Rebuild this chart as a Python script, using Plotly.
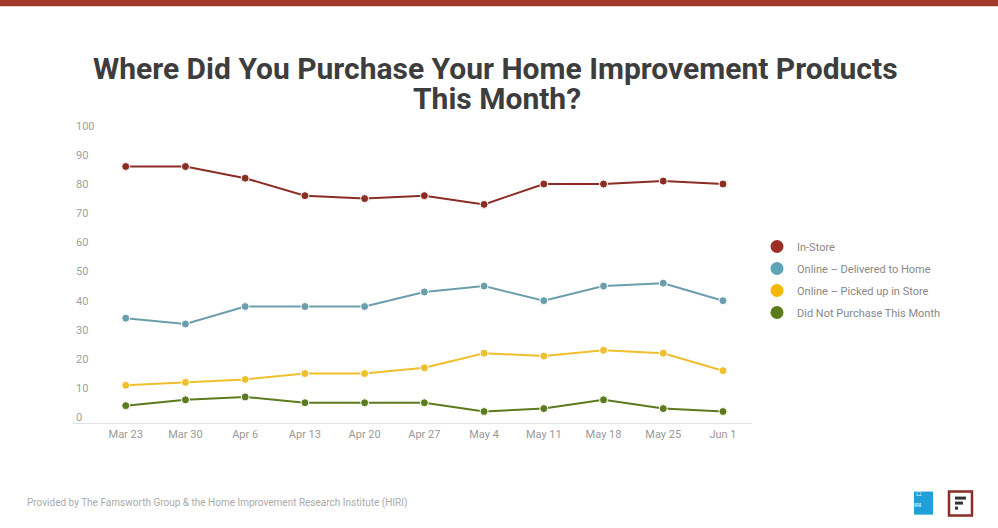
import plotly.graph_objects as go

weeks = ["Mar 23", "Mar 30", "Apr 6", "Apr 13", "Apr 20", "Apr 27", "May 4", "May 11", "May 18", "May 25", "Jun 1"]
series_names = ["In-Store", "Online – Delivered to Home", "Online – Picked up in Store", "Did Not Purchase This Month"]
in_store = [86, 86, 82, 76, 75, 76, 73, 80, 80, 81, 80]
delivered = [34, 32, 38, 38, 38, 43, 45, 40, 45, 46, 40]
picked_up = [11, 12, 13, 15, 15, 17, 22, 21, 23, 22, 16]
did_not = [4, 6, 7, 5, 5, 5, 2, 3, 6, 3, 2]
y_ticks = [0, 10, 20, 30, 40, 50, 60, 70, 80, 90, 100]

line_colors = ["#8c2d24", "#6b9ead", "#efbf2e", "#5c7a1e"]
legend_colors = ["#9b2f26", "#5fa3b8", "#f5b800", "#5a7b1c"]

W, H = 998, 528
Y_MIN, Y_MAX = -4, 104
ML, MR, MT, MB = 73, 246, 114.4, 99.4
PW, PH = W - ML - MR, H - MT - MB


def px_x(p):
    return (p - ML) / PW


def px_y(p):
    return (H - MB - p) / PH


fig = go.Figure()
x_idx = list(range(len(weeks)))
for name, vals, lc in zip(series_names, [in_store, delivered, picked_up, did_not], line_colors):
    fig.add_trace(go.Scatter(
        x=x_idx, y=vals, mode="lines+markers", name=name,
        line=dict(color=lc, width=2),
        marker=dict(size=8, color=lc, line=dict(color="white", width=1)),
        showlegend=False, hoverinfo="x+y+name",
    ))

for i, (name, lc) in enumerate(zip(series_names, legend_colors)):
    fig.add_trace(go.Scatter(
        x=[None], y=[None], mode="markers", name=name, legendgroup=f"g{i}",
        marker=dict(size=13, color=lc), showlegend=True,
    ))

fig.update_layout(
    width=W, height=H,
    margin=dict(l=ML, r=MR, t=MT, b=MB),
    paper_bgcolor="white", plot_bgcolor="white",
    font=dict(family="Roboto, sans-serif", color="#999999"),
    legend=dict(
        x=px_x(757), xanchor="left", y=px_y(279.5), yanchor="middle",
        font=dict(size=11, color="#888888"),
        tracegroupgap=3,
        bgcolor="rgba(0,0,0,0)",
    ),
    xaxis=dict(
        tickmode="array", tickvals=x_idx, ticktext=weeks,
        range=[-0.883, 10.486],
        anchor="free", position=px_y(423),
        showgrid=False, zeroline=False,
        showline=True, linecolor="#e2e2e2", linewidth=1,
        ticks="", tickfont=dict(size=11, color="#999999"),
        fixedrange=True,
    ),
    yaxis=dict(
        tickmode="array", tickvals=y_ticks,
        range=[Y_MIN, Y_MAX],
        showgrid=False, zeroline=False, showline=False,
        ticks="", ticklabelposition="inside",
        tickfont=dict(size=11, color="#a0a0a0"),
        fixedrange=True,
    ),
)

# title lines
fig.add_annotation(text="<b>Where Did You Purchase Your Home Improvement Products</b>",
                   xref="paper", yref="paper", x=px_x(495), y=px_y(69.5),
                   xanchor="center", yanchor="middle", showarrow=False,
                   font=dict(family="Roboto", size=30, color="#3d3d3d"))
fig.add_annotation(text="<b>This Month?</b>",
                   xref="paper", yref="paper", x=px_x(497), y=px_y(99),
                   xanchor="center", yanchor="middle", showarrow=False,
                   font=dict(family="Roboto", size=30, color="#3d3d3d"))

# top red band
fig.add_shape(type="rect", xref="paper", yref="paper",
              x0=px_x(0), x1=px_x(W), y0=px_y(7), y1=px_y(0),
              fillcolor="#a3392a", line=dict(width=0))

# footer text
fig.add_annotation(
    text="Provided by The Farnsworth Group &amp; the Home Improvement Research Institute (HIRI)",
    xref="paper", yref="paper", x=px_x(25), y=px_y(502),
    xanchor="left", yanchor="middle", showarrow=False,
    font=dict(size=10, color="#aaaaaa"),
)

# HIRI logo
fig.add_shape(type="rect", xref="paper", yref="paper",
              x0=px_x(914), x1=px_x(933), y0=px_y(514), y1=px_y(491),
              fillcolor="#1fa0d8", line=dict(width=0))
fig.add_annotation(text="HIRI", xref="paper", yref="paper", x=px_x(923.5), y=px_y(509),
                   showarrow=False, font=dict(size=6, color="white"))
fig.add_annotation(text="⌂", xref="paper", yref="paper", x=px_x(923.5), y=px_y(499),
                   showarrow=False, font=dict(size=10, color="white"))

# Farnsworth logo
fig.add_shape(type="rect", xref="paper", yref="paper",
              x0=px_x(949), x1=px_x(972), y0=px_y(515), y1=px_y(491),
              fillcolor="white", line=dict(width=2.5, color="#8b2e25"))
for x0, x1, y0, y1 in [(955, 966, 496, 499), (955, 963, 501, 504), (955, 958, 506, 509)]:
    fig.add_shape(type="rect", xref="paper", yref="paper",
                  x0=px_x(x0), x1=px_x(x1), y0=px_y(y1), y1=px_y(y0),
                  fillcolor="#333333", line=dict(width=0))

fig.write_html("out.html", post_script="document.body.style.margin='0';",
               config={"displayModeBar": False})
